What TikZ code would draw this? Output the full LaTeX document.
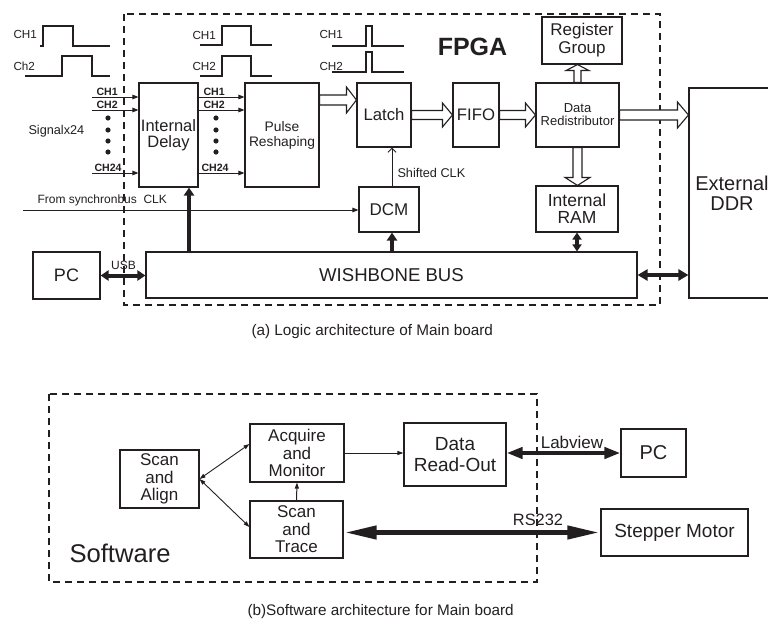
\documentclass[tikz,border=0pt]{standalone}
\usepackage{fontspec}
\setmainfont{Liberation Sans}
\usetikzlibrary{arrows.meta,calc}
\definecolor{ink}{RGB}{35,31,32}
\tikzset{
  box/.style={draw=ink, line width=1.1pt, inner sep=0pt, align=center},
  wh/.style 2 args={minimum width=#1pt, minimum height=#2pt},
  fnt/.style 2 args={font=\fontsize{#1}{#2}\selectfont},
  chlab/.style={font=\fontsize{10.6}{11}\bfseries\selectfont, inner sep=0pt, anchor=base west},
  wave/.style={line width=1.2pt},
  sig/.style={line width=1pt, -{Triangle[length=6pt,width=4.5pt]}},
  thin2/.style={line width=0.9pt, {Triangle[length=6pt,width=4pt]}-{Triangle[length=6pt,width=4pt]}},
  bus1/.style={line width=4pt, -{Triangle[length=8pt,width=10pt]}},
  bus2/.style={line width=4pt, {Triangle[length=8pt,width=10pt]}-{Triangle[length=8pt,width=10pt]}},
  hollow/.style={draw=ink, line width=1.1pt, fill=white},
  dashbox/.style={line width=1.2pt, dash pattern=on 7pt off 5pt}
}
% hollow block arrows: start, end, shaft half width, head half width, head length
\newcommand\hollowh[5]{\draw[hollow] let \p1=#1, \p2=#2 in
  (\x1,\y1+#3) -- (\x2-#5,\y1+#3) -- (\x2-#5,\y1+#4) -- (\x2,\y1) --
  (\x2-#5,\y1-#4) -- (\x2-#5,\y1-#3) -- (\x1,\y1-#3) -- cycle;}
\newcommand\hollowv[5]{\draw[hollow] let \p1=#1, \p2=#2 in
  (\x1+#3,\y1) -- (\x1+#3,\y2-#5) -- (\x1+#4,\y2-#5) -- (\x1,\y2) --
  (\x1-#4,\y2-#5) -- (\x1-#3,\y2-#5) -- (\x1-#3,\y1) -- cycle;}
\begin{document}
\begin{tikzpicture}[x=1pt, y=-1pt, line width=1pt, color=ink]
\useasboundingbox (0,0) rectangle (768,626);

% ---- (a) main board ----
\draw[dashbox] (124,14) rectangle (660,305);
\node[font=\fontsize{25}{25}\bfseries\selectfont] (fpga) at (472.5,47) {FPGA};

\node[box, wh={59}{104}, fnt={16.5}{16.5}] (delay) at (168.5,135) {Internal\\Delay};
\node[box, wh={74}{104}, fnt={13.8}{15}] (pulse) at (282,135) {Pulse\\Reshaping};
\node[box, wh={54}{64}, fnt={16.7}{17}] (latch) at (384,115) {Latch};
\node[box, wh={46}{64}, fnt={16.7}{17}] (fifo) at (476,115) {FIFO};
\node[box, wh={83}{64}, fnt={13}{13}] (redis) at (577.5,115) {Data\\Redistributor};
\node[box, wh={80}{47}, fnt={17}{18}] (reggrp) at (582,40.5) {Register\\Group};
\node[box, wh={82}{46}, fnt={17.5}{17}] (ram) at (577,209) {Internal\\RAM};
\node[box, wh={60}{45}, fnt={17}{17}] (dcm) at (389,209.5) {DCM};
\node[box, wh={491}{46}, fnt={18.6}{19}] (bus) at (391.5,275) {WISHBONE BUS};
\node[box, wh={67}{47}, fnt={18}{18}] (pc) at (66.5,275.5) {PC};
\node[box, wh={86}{210}, fnt={20}{20}, text width=82pt] (ddr) at (732,193) {External\\DDR};

% input waveforms
\node[fnt={11.7}{12}, anchor=west, inner sep=0pt] (w1a) at (13,34) {CH1};
\node[fnt={11.7}{12}, anchor=west, inner sep=0pt] (w1b) at (13,66) {Ch2};
\draw[wave] (40,46) -- (43,46) -- (43,26) -- (73,26) -- (73,46) -- (110,46);
\draw[wave] (25,76) -- (62,76) -- (62,56) -- (92,56) -- (92,76) -- (110,76);
% delayed waveforms
\node[fnt={11.7}{12}, anchor=west, inner sep=0pt] (w2a) at (192,35) {CH1};
\node[fnt={11.7}{12}, anchor=west, inner sep=0pt] (w2b) at (192,66) {CH2};
\draw[wave] (200,45) -- (222,45) -- (222,26) -- (251,26) -- (251,45) -- (272,45);
\draw[wave] (200,76) -- (222,76) -- (222,56) -- (251,56) -- (251,76) -- (272,76);
% reshaped waveforms
\node[fnt={11.7}{12}, anchor=west, inner sep=0pt] (w3a) at (319,34) {CH1};
\node[fnt={11.7}{12}, anchor=west, inner sep=0pt] (w3b) at (319,66) {CH2};
\draw[wave] (332,46) -- (366,46) -- (366,26) -- (372,26) -- (372,46) -- (404,46);
\draw[wave] (332,72) -- (366,72) -- (366,52) -- (372,52) -- (372,72) -- (404,72);

% channels
\node[fnt={12.7}{13}, anchor=west, inner sep=0pt] (sigs) at (28,131) {Signalx24};
\foreach \y/\t in {97/1, 110/2, 173/24} {
  \coordinate (in\t) at (92,\y);
  \draw[sig] (in\t) -- (in\t -| delay.west);
  \draw[sig] (in\t -| delay.east) -- (in\t -| pulse.west);
}
\node[chlab] (ci1) at (96,95) {CH1};
\node[chlab] (ci2) at (96,108) {CH2};
\node[chlab] (ci24) at (94,171) {CH24};
\node[chlab] (co1) at (203,95) {CH1};
\node[chlab] (co2) at (203,108) {CH2};
\node[chlab] (co24) at (201,171) {CH24};
\foreach \y in {118,130,141,152} {
  \fill (108,\y) circle (2.6pt);
  \fill (216,\y) circle (2.6pt);
}

% data path
\hollowh{(pulse.east |- 0,100)}{(latch.west |- 0,100)}{5pt}{13pt}{10pt}
\hollowh{(latch.east)}{(fifo.west)}{4.5pt}{12pt}{10pt}
\hollowh{(fifo.east)}{(redis.west)}{4.5pt}{12pt}{10pt}
\hollowh{(redis.east)}{(redis.east -| ddr.west)}{5pt}{13pt}{11pt}
\hollowv{(redis.south)}{(redis.south |- ram.north)}{4.5pt}{12.5pt}{-8pt}
\hollowv{(redis.north)}{(redis.north |- reggrp.south)}{3.5pt}{11.5pt}{6pt}

% clocks
\coordinate (clkin) at (23,210);
\draw[-{Triangle[length=6pt,width=4.5pt]}] (clkin) -- (clkin -| dcm.west);
\node[fnt={12}{12}, anchor=west, inner sep=0pt] (clklab) at (37,200) {From synchronbus\ \ CLK};
\draw[-{Straight Barb[length=4pt,width=8pt]}] (dcm.north -| 392,0) -- (latch.south -| 392,0);
\node[fnt={12.7}{13}, anchor=west, inner sep=0pt] (shlab) at (397,173) {Shifted CLK};

% bus connections
\draw[bus1] (bus.north -| 189,0) -- (delay.south -| 189,0);
\draw[bus1] (bus.north -| 392,0) -- (dcm.south -| 392,0);
\draw[line width=3.5pt, {Triangle[length=7pt,width=9pt]}-{Triangle[length=7pt,width=9pt]}] (ram.south) -- (ram.south |- bus.north);
\draw[bus2] (pc.east) -- (pc.east -| bus.west);
\node[fnt={12}{12}, inner sep=0pt] (usb) at (123.5,265) {USB};
\draw[line width=4pt, {Triangle[length=10pt,width=11pt]}-{Triangle[length=10pt,width=11pt]}] (bus.east) -- (bus.east -| ddr.west);

\node[fnt={15.3}{16}, anchor=west, inner sep=0pt] (capa) at (251,332) {(a) Logic architecture of Main board};

% ---- (b) software ----
\draw[dashbox] (49,394) rectangle (537,582);
\node[fnt={25.6}{26}, anchor=west, inner sep=0pt] (swlab) at (69,553) {Software};

\node[box, wh={79}{58}, fnt={17}{17.5}] (align) at (159.5,479) {Scan\\and\\Align};
\node[box, wh={94}{58}, fnt={17}{17.5}] (acq) at (297,453) {Acquire\\and\\Monitor};
\node[box, wh={93}{57}, fnt={17}{17.5}] (trace) at (296.5,529.5) {Scan\\and\\Trace};
\node[box, wh={102}{63}, fnt={19}{21}] (readout) at (455,454.5) {Data\\Read-Out};
\node[box, wh={65}{48}, fnt={20}{20}] (pc2) at (653.5,453) {PC};
\node[box, wh={147}{47}, fnt={19}{19}] (motor) at (674.5,532.5) {Stepper Motor};

\draw[thin2] (align.east) -- ([yshift=9pt]acq.west);
\draw[thin2] (align.east) -- ([yshift=2.5pt]trace.west);
\draw[-{Triangle[length=6pt,width=4pt]}] (trace.north) -- (acq.south);
\draw[-{Triangle[length=6pt,width=4pt]}] (acq.east) -- (acq.east -| readout.west);
\draw[line width=4pt, {Triangle[length=16pt,width=11pt]}-{Triangle[length=16pt,width=11pt]}] (pc2.west -| readout.east) -- (pc2.west);
\node[fnt={17}{17}, inner sep=0pt] (labview) at (572,442) {Labview};
\draw[line width=5.5pt, {Triangle[length=33pt,width=12.5pt]}-{Triangle[length=33pt,width=12.5pt]}] (motor.west -| trace.east) -- (motor.west);
\node[fnt={16.4}{16}, inner sep=0pt] (rs) at (538,520) {RS232};

\node[fnt={15.3}{16}, anchor=west, inner sep=0pt] (capb) at (247,612) {(b)Software architecture for Main board};
\end{tikzpicture}
\end{document}
